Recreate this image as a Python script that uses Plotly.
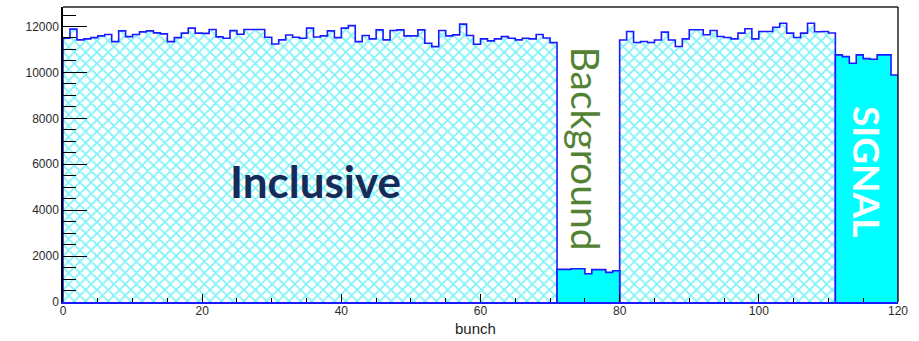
import plotly.graph_objects as go

# ---- data (bin contents, bins of width 1 on "bunch") ----
inclusive_a = [11490, 11886, 11417, 11460, 11518, 11592, 11650, 11342, 11811, 11561,
               11650, 11768, 11811, 11724, 11680, 11342, 11518, 11710, 11930, 11710,
               11700, 11870, 11550, 11490, 11820, 11660, 11870, 11870, 11870, 11530,
               11240, 11417, 11630, 11530, 11490, 11930, 11540, 11592, 11811, 11518,
               11930, 12040, 11342, 11606, 11460, 11855, 11417, 11825, 11855, 11592,
               11592, 11855, 11271, 11125, 11825, 11592, 11636, 12105, 11606, 11227,
               11460, 11373, 11460, 11561, 11490, 11417, 11490, 11460, 11650, 11500,
               11300]                      # bins 0..70
background = [1420, 1420, 1450, 1450, 1230, 1410, 1410, 1290, 1360]   # bins 71..79
inclusive_b = [11415, 11782, 11301, 11345, 11301, 11415, 11755, 11415, 11127, 11463,
               11856, 11856, 11638, 11826, 11565, 11520, 11463, 11710, 11900, 11463,
               11782, 11782, 11970, 12145, 11710, 11520, 11710, 12145, 11770, 11780,
               11720]                      # bins 80..110
signal = [10764, 10690, 10400, 10764, 10600, 10577, 10764, 10764, 9890]  # bins 111..119

x_ticks = [0, 20, 40, 60, 80, 100, 120]
y_ticks = [0, 2000, 4000, 6000, 8000, 10000, 12000]
x_title = "bunch"
labels = {"inclusive": "Inclusive", "background": "Background", "signal": "SIGNAL"}

NBINS = 120


def step_xy(first_bin, values):
    """Histogram outline as step points (edge, content), closed to zero."""
    xs = [first_bin]
    ys = [0]
    for i, v in enumerate(values):
        xs.append(first_bin + i)
        ys.append(v)
    xs.append(first_bin + len(values))
    ys.append(values[-1])
    xs.append(first_bin + len(values))
    ys.append(0)
    return xs, ys


# hatched inclusive histogram over the full range (zero in bkg/signal bins)
incl_full = inclusive_a + [0] * len(background) + inclusive_b + [0] * len(signal)
ix, iy = step_xy(0, incl_full)
bx, by = step_xy(71, background)
sx, sy = step_xy(111, signal)

LINE = "#1a1aff"
CYAN = "#00ffff"

fig = go.Figure()
fig.add_trace(go.Scatter(
    x=ix, y=iy, mode="lines", line=dict(shape="hv", color=LINE, width=1.6),
    fill="tozeroy", fillcolor="white",
    fillpattern=dict(shape="x", fgcolor="#00e6f2", bgcolor="white", size=8, solidity=0.4),
    hoverinfo="skip", showlegend=False))
fig.add_trace(go.Scatter(
    x=bx, y=by, mode="lines", line=dict(shape="hv", color=LINE, width=1.6),
    fill="tozeroy", fillcolor=CYAN, hoverinfo="skip", showlegend=False))
fig.add_trace(go.Scatter(
    x=sx, y=sy, mode="lines", line=dict(shape="hv", color=LINE, width=1.6),
    fill="tozeroy", fillcolor=CYAN, hoverinfo="skip", showlegend=False))

tickfont = dict(family="Liberation Sans, Arial, sans-serif", size=12, color="#2a2a2a")

fig.update_layout(
    width=919, height=341,
    margin=dict(l=63, r=21, t=7, b=39),
    paper_bgcolor="white", plot_bgcolor="white",
    xaxis=dict(range=[0, NBINS], tickvals=x_ticks, ticktext=[str(v) for v in x_ticks],
               ticks="inside", ticklen=8, tickwidth=1.2, tickcolor="black",
               minor=dict(dtick=5, ticks="inside", ticklen=4, tickwidth=1.2, tickcolor="black"),
               showgrid=False, zeroline=False, showline=True, linecolor=LINE, linewidth=1.6,
               tickfont=tickfont, ticklabelstandoff=-3),
    yaxis=dict(range=[0, 12850], tickvals=y_ticks, ticktext=[str(v) for v in y_ticks],
               ticks="inside", ticklen=24, tickwidth=1.2, tickcolor="black",
               minor=dict(dtick=500, ticks="inside", ticklen=13, tickwidth=1.2, tickcolor="black"),
               showgrid=False, zeroline=False, showline=True, linecolor="black", linewidth=1.5,
               tickfont=tickfont),
    shapes=[
        dict(type="line", xref="paper", yref="paper", x0=0, x1=1, y0=1, y1=1,
             line=dict(color="#222222", width=1.5)),
        dict(type="line", xref="paper", yref="paper", x0=1, x1=1, y0=0, y1=1,
             line=dict(color="#222222", width=1.5)),
    ],
    annotations=[
        dict(text=labels["inclusive"], xref="paper", yref="paper", x=0.302, y=0.41,
             showarrow=False, xanchor="center", yanchor="middle",
             font=dict(family="Lato", size=44, color="#172b58", weight="bold")),
        dict(text=labels["background"], xref="paper", yref="paper", x=0.6263, y=0.52,
             showarrow=False, xanchor="center", yanchor="middle", textangle=90,
             font=dict(family="Lato", size=39, color="#548235")),
        dict(text=labels["signal"], xref="paper", yref="paper", x=0.963, y=0.4407,
             showarrow=False, xanchor="center", yanchor="middle", textangle=90,
             font=dict(family="Lato", size=37, color="white", weight="bold")),
        dict(text=x_title, xref="paper", yref="paper", x=0.4946, y=-0.09,
             showarrow=False, xanchor="center", yanchor="middle",
             font=dict(family="Liberation Sans, Arial, sans-serif", size=15, color="#222222")),
    ],
)

fig.write_html("out.html", config={"displayModeBar": False})
